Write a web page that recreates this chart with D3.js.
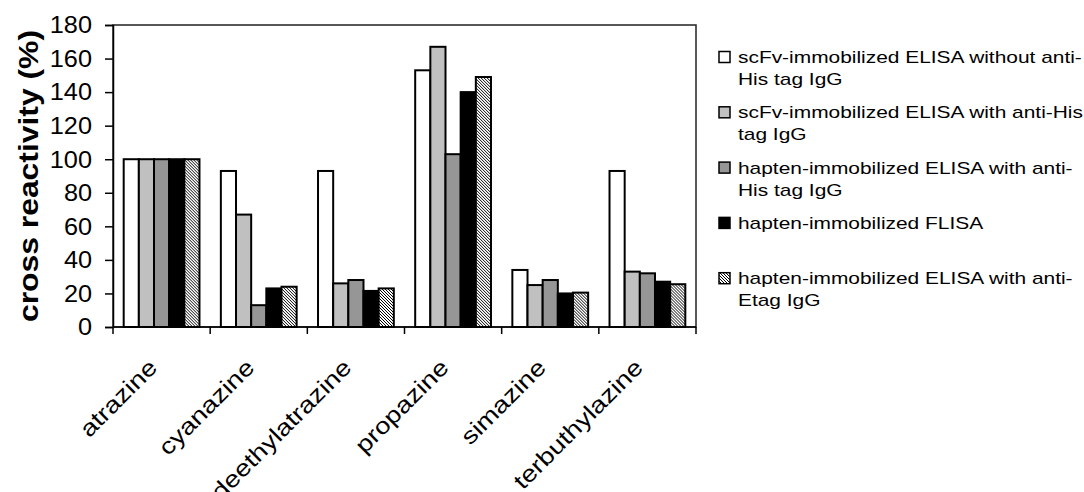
<!DOCTYPE html>
<html>
<head>
<meta charset="utf-8">
<script src="https://cdn.jsdelivr.net/npm/d3@7"></script>
<style>
  body { margin: 0; background: #fff; }
  text { font-family: Arial, "Liberation Sans", sans-serif; fill: #000; }
</style>
</head>
<body>
<svg id="chart" width="1084" height="492"></svg>
<script>
// data
var categories = ["atrazine", "cyanazine", "deethylatrazine", "propazine", "simazine", "terbuthylazine"];

var scfvNoAnti   = [100, 93, 93, 153, 34, 93];
var scfvAntiHis  = [100, 67, 26, 167, 25, 33];
var haptenAntiHis = [100, 13, 28, 103, 28, 32];
var haptenFlisa  = [100, 23, 21.5, 140, 20, 27];
var haptenEtag   = [100, 24, 23, 149, 20.5, 25.5];

var seriesNames = [
    ["scFv-immobilized ELISA without anti-", "His tag IgG"],
    ["scFv-immobilized ELISA with anti-His", "tag IgG"],
    ["hapten-immobilized ELISA with anti-", "His tag IgG"],
    ["hapten-immobilized FLISA"],
    ["hapten-immobilized ELISA with anti-", "Etag IgG"]
];
var yTicks = [0, 20, 40, 60, 80, 100, 120, 140, 160, 180];

var series = [scfvNoAnti, scfvAntiHis, haptenAntiHis, haptenFlisa, haptenEtag];
var fills = ["#ffffff", "#c0c0c0", "#969696", "#000000", "url(#hatch)"];

var svg = d3.select("#chart");

var pLeft = 113, pRight = 696, pTop = 25, pBottom = 327;

var defs = svg.append("defs");
var pat = defs.append("pattern")
    .attr("id", "hatch")
    .attr("patternUnits", "userSpaceOnUse")
    .attr("width", 3)
    .attr("height", 3);
pat.append("rect").attr("width", 3).attr("height", 3).attr("fill", "#ffffff");
pat.append("path")
    .attr("d", "M-1,-1 L4,4 M-1,2 L1,4 M2,-1 L4,1")
    .attr("stroke", "#000")
    .attr("stroke-width", 1);

var x0 = d3.scaleBand()
    .domain(categories)
    .range([pLeft, pRight])
    .paddingInner(0.22)
    .paddingOuter(0.11);

var x1 = d3.scaleBand()
    .domain(d3.range(series.length))
    .range([0, x0.bandwidth()]);

var y = d3.scaleLinear()
    .domain([0, 180])
    .range([pBottom, pTop]);

// helper for slightly wide text
function label(g, x, yy, rot, sx, txt) {
    return g.append("g")
        .attr("transform", "translate(" + x + "," + yy + ") rotate(" + rot + ") scale(" + sx + ",1)")
        .append("text")
        .text(txt);
}

// plot frame
svg.append("rect")
    .attr("x", pLeft)
    .attr("y", pTop)
    .attr("width", pRight - pLeft)
    .attr("height", pBottom - pTop)
    .attr("fill", "none")
    .attr("stroke", "#222")
    .attr("stroke-width", 1.5);

// bars
var groups = svg.append("g").selectAll("g")
    .data(categories)
    .enter()
    .append("g")
    .attr("transform", function (d) { return "translate(" + x0(d) + ",0)"; });

groups.selectAll("rect")
    .data(function (d, i) {
        return series.map(function (s, j) { return { s: j, v: s[i] }; });
    })
    .enter()
    .append("rect")
    .attr("x", function (d) { return x1(d.s); })
    .attr("y", function (d) { return y(d.v); })
    .attr("width", x1.bandwidth())
    .attr("height", function (d) { return y(0) - y(d.v); })
    .attr("fill", function (d) { return fills[d.s]; })
    .attr("stroke", "#000")
    .attr("stroke-width", 2);

// y axis
var yAxis = svg.append("g")
    .attr("transform", "translate(" + pLeft + ",0)")
    .call(d3.axisLeft(y).tickValues(yTicks).tickSize(8).tickFormat(""));
yAxis.selectAll("path, line").attr("stroke", "#000").attr("stroke-width", 1.5);

var yLab = svg.append("g");
yTicks.forEach(function (t) {
    label(yLab, 92, y(t), 0, 1.1, t)
        .attr("text-anchor", "end")
        .attr("dy", "0.36em")
        .style("font-size", "23px");
});

label(svg, 28, 176, -90, 1.18, "cross reactivity (%)")
    .attr("text-anchor", "middle")
    .attr("dy", "0.36em")
    .style("font-size", "27px")
    .style("font-weight", "bold");

// x axis
var xTicks = d3.range(categories.length + 1).map(function (i) {
    return pLeft + i * (pRight - pLeft) / categories.length;
});
svg.append("line")
    .attr("x1", pLeft).attr("x2", pRight)
    .attr("y1", pBottom).attr("y2", pBottom)
    .attr("stroke", "#000").attr("stroke-width", 1.5);
svg.append("g").selectAll("line")
    .data(xTicks)
    .enter()
    .append("line")
    .attr("x1", function (d) { return d; })
    .attr("x2", function (d) { return d; })
    .attr("y1", pBottom)
    .attr("y2", pBottom + 7)
    .attr("stroke", "#000")
    .attr("stroke-width", 1.5);

// category names, slanted; the long ones run off the bottom like in the original
var xLab = svg.append("g");
categories.forEach(function (c) {
    var cx = x0(c) + x0.bandwidth() / 2;
    label(xLab, cx - 3, 369, -45, 1.2, c)
        .attr("text-anchor", "end")
        .style("font-size", "23px");
});

// legend
var legend = svg.append("g");
var ly = 57, step = 55.3;
seriesNames.forEach(function (lines, i) {
    var cy = ly + i * step;
    legend.append("rect")
        .attr("x", 719)
        .attr("y", cy - 5.5)
        .attr("width", 11)
        .attr("height", 11)
        .attr("fill", fills[i])
        .attr("stroke", "#000")
        .attr("stroke-width", 1.5);
    lines.forEach(function (t, k) {
        label(legend, 738, cy + k * 22, 0, 1.23, t)
            .attr("dy", "0.36em")
            .style("font-size", "17px");
    });
});
</script>
</body>
</html>
